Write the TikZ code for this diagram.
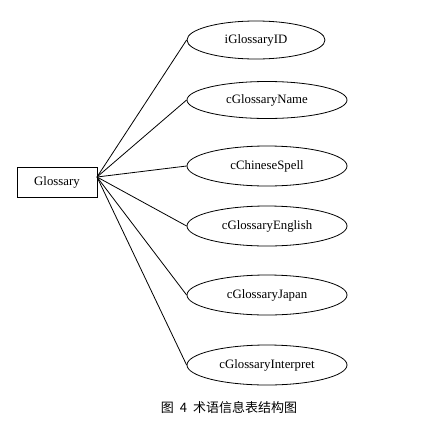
\documentclass[tikz,border=0pt]{standalone}
\usepackage{fontspec}
\setmainfont{Liberation Serif}
\newfontfamily\cjk{Noto Sans CJK SC}
\usetikzlibrary{shapes.geometric}
\begin{document}
\begin{tikzpicture}[x=1pt,y=-1pt,
  attr/.style={draw,ellipse,line width=0.8pt,inner sep=0pt,font=\fontsize{12.8}{14}\selectfont},
  ent/.style={draw,rectangle,line width=0.8pt,minimum width=80pt,minimum height=30pt,inner sep=0pt,font=\fontsize{12.8}{14}\selectfont},
  link/.style={line width=0.8pt}]
\useasboundingbox (0,0) rectangle (439,421);
\node[ent] (g) at (57,182) {Glossary};
\coordinate (o) at (97,177);
\node[attr,minimum width=138pt,minimum height=38pt] (e1) at (256,40) {iGlossaryID};
\node[attr,minimum width=160pt,minimum height=37pt] (e2) at (267,100) {cGlossaryName};
\node[attr,minimum width=160pt,minimum height=40pt] (e3) at (267,166) {cChineseSpell};
\node[attr,minimum width=160pt,minimum height=40pt] (e4) at (267,226) {cGlossaryEnglish};
\node[attr,minimum width=160pt,minimum height=40pt] (e5) at (267,295) {cGlossaryJapan};
\node[attr,minimum width=160pt,minimum height=40pt] (e6) at (267,365) {cGlossaryInterpret};
\foreach \e in {e1,e2,e3,e4,e5,e6} \draw[link] (o) -- (\e.west);
\node[font=\cjk\fontsize{13}{15}\selectfont] (cap) at (229,408) {图\hspace{6pt}4\hspace{6pt}术语信息表结构图};
\end{tikzpicture}
\end{document}
